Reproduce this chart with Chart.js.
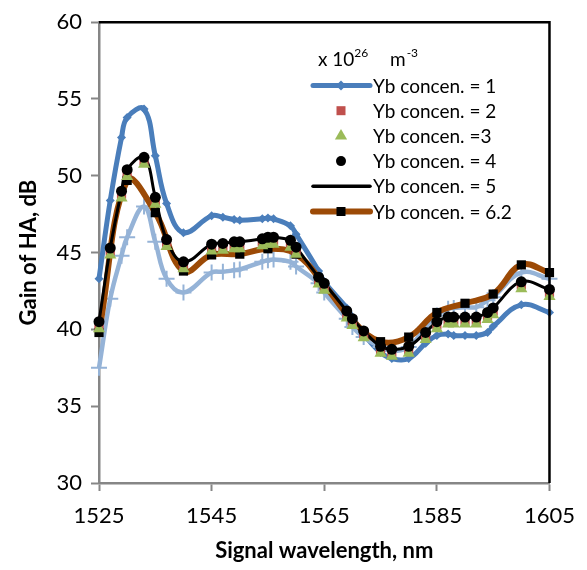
<!DOCTYPE html>
<html><head><meta charset="utf-8">
<script src="https://cdn.jsdelivr.net/npm/chart.js@4.4.1/dist/chart.umd.min.js"></script>
<style>html,body{margin:0;padding:0;background:#fff}#wrap{width:587px;height:570px;position:relative}</style>
</head><body><div id="wrap"><canvas id="c" width="587" height="570"></canvas></div>
<script>
// ---- data ----
const wavelengths = [1525,1527,1529,1530,1533,1535,1537,1540,1545,1547,1549,1550,1554,1555,1556,1559,1560,1564,1565,1569,1570,1572,1575,1577,1580,1583,1585,1587,1588,1590,1592,1594,1595,1600,1605];
const wavelengths5nm = [1525,1530,1535,1540,1545,1550,1555,1560,1565,1570,1575,1580,1585,1590,1595,1600,1605];
const conc1 = [43.3,48.4,52.5,53.8,54.35,51.3,48.2,46.3,47.4,47.3,47.15,47.1,47.2,47.25,47.2,46.75,46.2,43.8,43.1,41.4,40.8,39.7,38.5,38.1,38.1,39.1,39.6,39.7,39.6,39.6,39.6,39.8,40.2,41.6,41.1];
const conc2 = [40.3,45.1,48.8,50.2,51.0,48.4,45.65,44.2,45.35,45.4,45.5,45.5,45.7,45.8,45.8,45.6,45.15,43.2,42.8,41.0,40.5,39.7,38.7,38.5,38.7,39.6,40.3,40.6,40.6,40.6,40.6,40.9,41.2,42.9,42.4];
const conc3 = [40.05,44.85,48.55,49.95,50.75,48.15,45.4,43.95,45.1,45.15,45.25,45.25,45.45,45.55,45.55,45.35,44.9,42.95,42.55,40.75,40.25,39.45,38.45,38.25,38.45,39.35,40.05,40.35,40.35,40.35,40.35,40.65,40.95,42.65,42.15];
const conc4 = [40.5,45.3,49.0,50.4,51.2,48.6,45.85,44.4,45.55,45.6,45.7,45.7,45.9,46.0,46.0,45.8,45.35,43.4,43.0,41.2,40.7,39.9,38.9,38.7,38.9,39.8,40.5,40.8,40.8,40.8,40.8,41.1,41.4,43.1,42.6];
const conc5 = [40.5,45.3,49.0,50.4,51.2,48.6,45.85,44.4,45.55,45.6,45.7,45.7,45.9,46.0,46.0,45.8,45.35,43.4,43.0,41.2,40.7,39.9,38.9,38.7,38.9,39.8,40.5,40.8,40.8,40.8,40.8,41.1,41.4,43.1,42.6];
const conc62 = [39.8,49.7,47.6,43.8,44.85,44.9,45.25,44.9,42.9,40.6,39.2,39.5,41.1,41.7,42.3,44.2,43.7];
const unlabeled = [37.5,42.0,44.8,46.0,48.0,45.7,43.3,42.4,43.7,43.75,43.85,43.9,44.4,44.5,44.55,44.4,44.1,43.0,42.4,40.7,40.15,39.5,38.85,38.6,38.85,40.15,40.9,41.35,41.4,41.45,41.45,41.9,42.1,43.7,43.3];
const xTickValues = [1525,1545,1565,1585,1605];
const yTickValues = [30,35,40,45,50,55,60];
const legendLabels = ['Yb concen. = 1','Yb concen. = 2','Yb concen. =3','Yb concen. = 4','Yb concen. = 5','Yb concen. = 6.2'];
const xTitle = 'Signal wavelength, nm';
const yTitle = 'Gain of HA, dB';

const FONT = 'Lato';
const BLUE = '#4A7EBB', RED = '#C0504D', GREEN = '#9BBB59', BROWN = '#9C4A06', LIGHT = '#95B3D7';

function pts(xs, ys){ return xs.map((x,i)=>({x:x, y:ys[i]})); }

const datasets = [
  {label:legendLabels[0], data:pts(wavelengths,conc1), borderColor:BLUE, backgroundColor:BLUE, borderWidth:5, tension:0.4,
   pointStyle:'rectRot', pointRadius:4.5, pointBorderWidth:0, pointBackgroundColor:BLUE, order:70, clip:false},
  {label:'unl', data:pts(wavelengths,unlabeled), borderColor:LIGHT, backgroundColor:LIGHT, borderWidth:4.5, tension:0.4,
   pointStyle:'cross', pointRadius:8, pointBorderWidth:2, pointBorderColor:LIGHT, order:65, clip:false},
  {label:legendLabels[5], data:pts(wavelengths5nm,conc62), borderColor:BROWN, backgroundColor:'#000', borderWidth:6, tension:0.4,
   pointStyle:'rect', pointRadius:6.5, pointBorderWidth:0, pointBackgroundColor:'#000', order:60, clip:false},
  {label:legendLabels[4], data:pts(wavelengths,conc5), borderColor:'#000', borderWidth:3, tension:0.4,
   pointRadius:0, order:50, clip:false},
  {label:legendLabels[1], data:pts(wavelengths,conc2), showLine:false, pointStyle:'rect', pointRadius:6.5, pointBorderWidth:0,
   pointBackgroundColor:RED, backgroundColor:RED, borderColor:RED, order:40, clip:false},
  {label:legendLabels[2], data:pts(wavelengths,conc3), showLine:false, pointStyle:'triangle', pointRadius:7, pointBorderWidth:0,
   pointBackgroundColor:GREEN, backgroundColor:GREEN, borderColor:GREEN, order:30, clip:false},
  {label:legendLabels[3], data:pts(wavelengths,conc4), showLine:false, pointStyle:'circle', pointRadius:5.5, pointBorderWidth:0,
   pointBackgroundColor:'#000', backgroundColor:'#000', borderColor:'#000', order:20, clip:false}
];

const framePlugin = {
  id:'frame',
  afterDraw(chart){
    const {ctx, chartArea:a} = chart;
    ctx.save();
    ctx.strokeStyle = '#000'; ctx.lineWidth = 2.5;
    ctx.beginPath(); ctx.moveTo(a.left, a.top); ctx.lineTo(a.right, a.top); ctx.lineTo(a.right, a.bottom); ctx.stroke();
    // legend
    const lx0 = 313, lx1 = 370, mx = 341, tx = 373;
    const y0 = 85.5, dy = 25.2;
    ctx.fillStyle = '#000'; ctx.textBaseline = 'middle'; ctx.textAlign = 'left';
    ctx.font = '19px ' + FONT;
    let hy = 60;
    ctx.fillText('x 10', 318, hy);
    let w = ctx.measureText('x 10').width;
    ctx.font = '12px ' + FONT; ctx.fillText('26', 318 + w, hy - 7);
    ctx.font = '19px ' + FONT; ctx.fillText('m', 390, hy);
    let wm = ctx.measureText('m').width;
    ctx.font = '12px ' + FONT; ctx.fillText('-3', 390 + wm + 1, hy - 7);
    ctx.font = '19px ' + FONT;
    ctx.lineCap = 'round';
    const line = (y, color, lw) => { ctx.strokeStyle = color; ctx.lineWidth = lw; ctx.beginPath(); ctx.moveTo(lx0, y); ctx.lineTo(lx1, y); ctx.stroke(); };
    for (let i = 0; i < legendLabels.length; i++) {
      const y = y0 + i*dy;
      if (i === 0) {
        line(y, BLUE, 5);
        ctx.fillStyle = BLUE; ctx.beginPath(); ctx.moveTo(mx, y-5); ctx.lineTo(mx+5, y); ctx.lineTo(mx, y+5); ctx.lineTo(mx-5, y); ctx.closePath(); ctx.fill();
      } else if (i === 1) {
        ctx.fillStyle = RED; ctx.fillRect(mx-4.5, y-4.5, 9, 9);
      } else if (i === 2) {
        ctx.fillStyle = GREEN; ctx.beginPath(); ctx.moveTo(mx, y-7); ctx.lineTo(mx+6.1, y+3.5); ctx.lineTo(mx-6.1, y+3.5); ctx.closePath(); ctx.fill();
      } else if (i === 3) {
        ctx.fillStyle = '#000'; ctx.beginPath(); ctx.arc(mx, y, 5, 0, Math.PI*2); ctx.fill();
      } else if (i === 4) {
        line(y, '#000', 3.5);
      } else if (i === 5) {
        line(y, BROWN, 6);
        ctx.fillStyle = '#000'; ctx.fillRect(mx-4.5, y-4.5, 9, 9);
      }
      ctx.fillStyle = '#000';
      ctx.fillText(legendLabels[i], tx, y + 1);
    }
    ctx.restore();
  }
};

new Chart(document.getElementById('c'), {
  type:'line',
  data:{datasets},
  options:{
    responsive:false, animation:false, devicePixelRatio:1,
    layout:{padding:{top:21, right:34, left:0, bottom:0}},
    plugins:{legend:{display:false}, tooltip:{enabled:false}},
    scales:{
      x:{type:'linear', min:1525, max:1605,
        afterBuildTicks:(s)=>{ s.ticks = xTickValues.map(v=>({value:v})); },
        afterFit:(s)=>{ s.height = 87; },
        ticks:{color:'#000', font:{family:FONT, size:22}, padding:12, maxRotation:0, autoSkip:false, callback:(v)=>String(v)},
        grid:{drawOnChartArea:false, drawTicks:true, tickLength:8, color:'#868686', tickWidth:2},
        border:{color:'#868686', width:2.5},
        title:{display:true, text:xTitle, color:'#000', font:{family:FONT, size:22, weight:'bold'}, padding:{top:0, bottom:6}}
      },
      y:{type:'linear', min:30, max:60,
        afterBuildTicks:(s)=>{ s.ticks = yTickValues.map(v=>({value:v})); },
        afterFit:(s)=>{ s.width = 99; },
        ticks:{color:'#000', font:{family:FONT, size:22}, padding:9, autoSkip:false, callback:(v)=>String(v)},
        grid:{drawOnChartArea:false, drawTicks:true, tickLength:8, color:'#868686', tickWidth:2},
        border:{color:'#868686', width:2.5},
        title:{display:true, text:yTitle, color:'#000', font:{family:FONT, size:22, weight:'bold'}, padding:{top:16, bottom:0}}
      }
    }
  },
  plugins:[framePlugin]
});
</script></body></html>
